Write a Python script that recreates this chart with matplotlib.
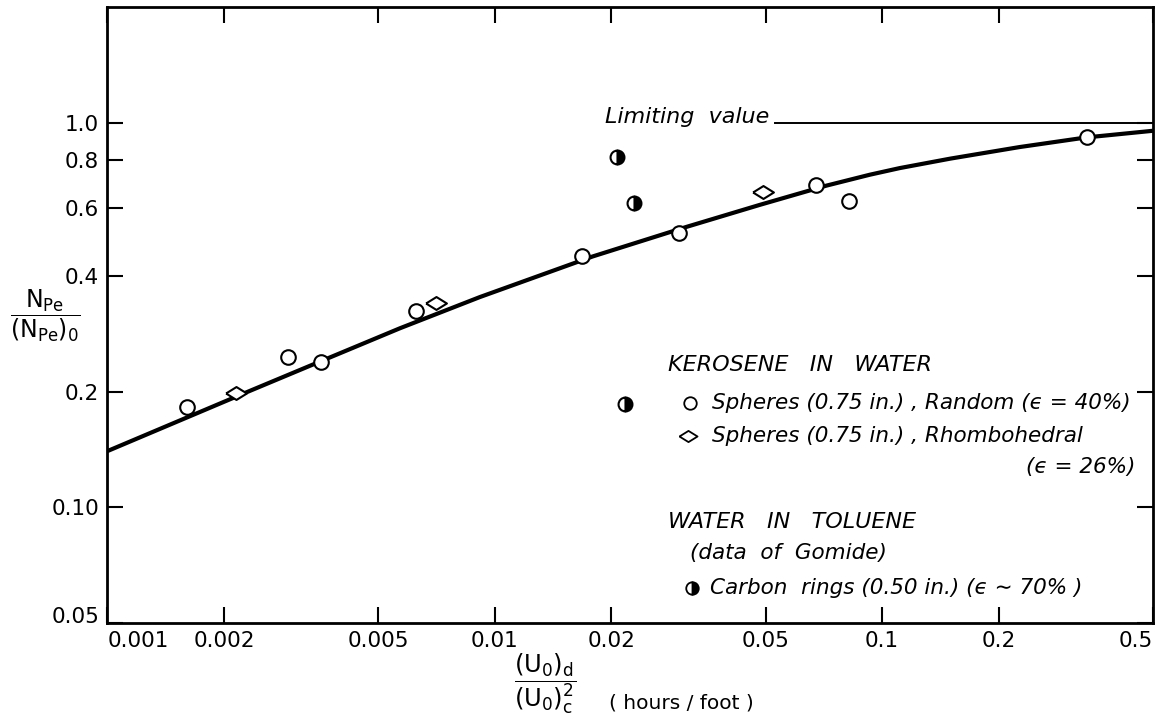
import numpy as np
import matplotlib
matplotlib.use('Agg')
import matplotlib.pyplot as plt
from matplotlib.ticker import FixedLocator, FixedFormatter, NullLocator

# data
# kerosene in water, random spheres
x_random = [0.0016, 0.00292, 0.00356, 0.00625, 0.0168, 0.0299, 0.0675, 0.082, 0.337]
y_random = [0.182, 0.246, 0.239, 0.324, 0.450, 0.517, 0.689, 0.626, 0.918]
# kerosene in water, rhombohedral spheres
x_rhombo = [0.00215, 0.00705, 0.0492]
y_rhombo = [0.198, 0.340, 0.660]
# water in toluene, carbon rings (Gomide)
x_rings = [0.02065, 0.0229, 0.0217]
y_rings = [0.815, 0.618, 0.1856]
# correlating curve
x_curve = [0.001, 0.00233, 0.00356, 0.00569, 0.00915, 0.0179, 0.0313, 0.0483, 0.0719,
           0.0929, 0.111, 0.150, 0.226, 0.337, 0.5]
y_curve = [0.140, 0.2007, 0.2399, 0.2921, 0.3521, 0.4491, 0.5363, 0.6115, 0.6865,
           0.7325, 0.7622, 0.8067, 0.8643, 0.916, 0.953]
# limiting value line
x_limit = [0.0528, 0.5]
y_limit = [1.0, 1.0]

xticks = [0.001, 0.002, 0.005, 0.01, 0.02, 0.05, 0.1, 0.2, 0.5]
xticklabels = ['0.001', '0.002', '0.005', '0.01', '0.02', '0.05', '0.1', '0.2', '0.5']
yticks = [0.05, 0.10, 0.2, 0.4, 0.6, 0.8, 1.0]
yticklabels = ['0.05', '0.10', '0.2', '0.4', '0.6', '0.8', '1.0']

plt.rcParams['font.family'] = ['DejaVu Sans']
plt.rcParams['mathtext.fontset'] = 'dejavusans'

fig = plt.figure(figsize=(11.73, 7.28), dpi=100)
ax = fig.add_axes([0.0916, 0.1442, 0.8913, 0.8462])
ax.set_xscale('log')
ax.set_yscale('log')
ax.set_xlim(0.001, 0.5)
ax.set_ylim(0.05, 2.0)

# wide flat diamond like the original
diamond = [(-1, 0), (0, 0.62), (1, 0), (0, -0.62), (-1, 0)]

ax.plot(x_curve, y_curve, color='black', lw=3.0, solid_capstyle='butt', solid_joinstyle='round', zorder=2)
ax.plot(x_limit, y_limit, color='black', lw=1.4, zorder=2)
ax.plot(x_random, y_random, 'o', ms=10.5, mfc='white', mec='black', mew=1.5, ls='none', zorder=3)
ax.plot(x_rhombo, y_rhombo, marker=diamond, ms=15, mfc='white', mec='black', mew=1.5, ls='none', zorder=3)
ax.plot(x_rings, y_rings, 'o', ms=10, fillstyle='right', mfc='black', mfcalt='white',
        mec='black', mew=1.5, ls='none', zorder=3)

for s in ax.spines.values():
    s.set_linewidth(2.0)

ax.xaxis.set_major_locator(FixedLocator(xticks))
ax.xaxis.set_major_formatter(FixedFormatter(xticklabels))
ax.xaxis.set_minor_locator(NullLocator())
ax.yaxis.set_major_locator(FixedLocator(yticks))
ax.yaxis.set_major_formatter(FixedFormatter(yticklabels))
ax.yaxis.set_minor_locator(NullLocator())
ax.tick_params(which='major', direction='in', top=True, right=True, length=11.5,
               width=1.5, labelsize=15.5, pad=6)

labs = ax.get_xticklabels()
labs[0].set_ha('left')
labs[-1].set_ha('right')
ax.get_yticklabels()[0].set_va('baseline')

# annotation and key
ita = dict(style='italic', transform=ax.transAxes, va='center')
ax.text(0.633, 0.821, 'Limiting  value', ha='right', fontsize=16, **ita)
ax.text(0.536, 0.419, 'KEROSENE   IN   WATER', ha='left', fontsize=16, **ita)
ax.text(0.578, 0.357, 'Spheres (0.75 in.) , Random (ϵ = 40%)', ha='left', fontsize=15.5, **ita)
ax.text(0.578, 0.304, 'Spheres (0.75 in.) , Rhombohedral', ha='left', fontsize=15.5, **ita)
ax.text(0.983, 0.253, '(ϵ = 26%)', ha='right', fontsize=15.5, **ita)
ax.text(0.536, 0.164, 'WATER   IN   TOLUENE', ha='left', fontsize=16, **ita)
ax.text(0.557, 0.114, '(data  of  Gomide)', ha='left', fontsize=15.5, **ita)
ax.text(0.576, 0.057, 'Carbon  rings (0.50 in.) (ϵ ∼ 70% )', ha='left', fontsize=15.5, **ita)

ax.plot([0.557], [0.357], 'o', ms=9, mfc='white', mec='black', mew=1.3, transform=ax.transAxes, clip_on=False)
ax.plot([0.555], [0.304], marker=diamond, ms=13, mfc='white', mec='black', mew=1.3, transform=ax.transAxes, clip_on=False)
ax.plot([0.559], [0.057], 'o', ms=9, fillstyle='right', mfc='black', mfcalt='white', mec='black', mew=1.3,
        transform=ax.transAxes, clip_on=False)

# axis labels as stacked fractions
fig.text(0.039, 0.566, r'$\dfrac{\mathrm{N_{Pe}}}{(\mathrm{N_{Pe}})_{0}}$', fontsize=17, ha='center', va='center')
fig.text(0.465, 0.060, r'$\dfrac{(\mathrm{U_{0}})_{\mathrm{d}}}{(\mathrm{U_{0}})^{2}_{\mathrm{c}}}$', fontsize=17.5,
         ha='center', va='center')
fig.text(0.581, 0.034, '( hours / foot )', fontsize=14.5, ha='center', va='center')

fig.savefig('out.png', dpi=100)
